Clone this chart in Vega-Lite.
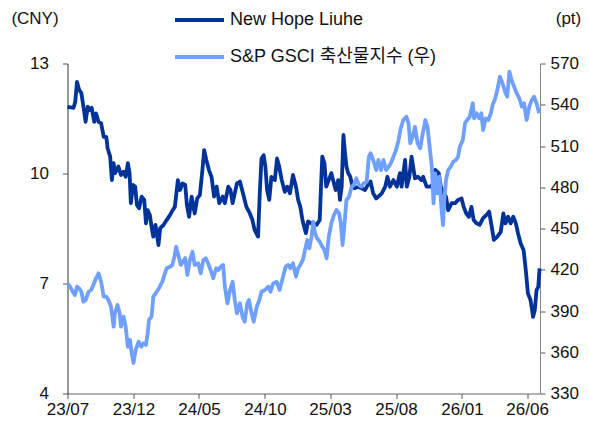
{
"$schema":"https://vega.github.io/schema/vega-lite/v6.json",
"width":472.5,"height":330,
"autosize":{"type":"none"},
"padding":{"left":67.5,"top":63.5,"right":49,"bottom":30.5},
"config":{"view":{"stroke":null},"font":"Liberation Sans, Noto Sans CJK KR, sans-serif",
"axis":{"labelFont":"Liberation Sans, Noto Sans CJK KR, sans-serif","labelFontSize":17,"labelColor":"#111","tickColor":"#555","domainColor":"#666","tickSize":5,"grid":false,"labelPadding":3,"titleFont":"Liberation Sans, Noto Sans CJK KR, sans-serif","titleFontSize":17,"titleFontWeight":"normal","titleColor":"#111"},
"legend":{"labelFont":"Liberation Sans, Noto Sans CJK KR, sans-serif"}},
"datasets":{
"nh":[{"d":"2023-07-01","v":11.82},{"d":"2023-07-15","v":11.79},{"d":"2023-07-19","v":11.96},{"d":"2023-07-23","v":12.5},{"d":"2023-07-28","v":12.28},{"d":"2023-08-02","v":12.2},{"d":"2023-08-07","v":11.82},{"d":"2023-08-12","v":11.41},{"d":"2023-08-17","v":11.82},{"d":"2023-08-22","v":11.73},{"d":"2023-08-26","v":11.79},{"d":"2023-09-01","v":11.41},{"d":"2023-09-05","v":11.64},{"d":"2023-09-11","v":11.41},{"d":"2023-09-17","v":11.37},{"d":"2023-09-23","v":11.0},{"d":"2023-09-29","v":11.0},{"d":"2023-10-02","v":10.69},{"d":"2023-10-08","v":10.46},{"d":"2023-10-12","v":9.82},{"d":"2023-10-16","v":10.28},{"d":"2023-10-19","v":10.01},{"d":"2023-10-27","v":10.19},{"d":"2023-11-02","v":9.96},{"d":"2023-11-08","v":10.05},{"d":"2023-11-13","v":9.91},{"d":"2023-11-18","v":10.28},{"d":"2023-11-22","v":10.01},{"d":"2023-11-25","v":9.19},{"d":"2023-11-30","v":9.69},{"d":"2023-12-05","v":9.64},{"d":"2023-12-09","v":9.14},{"d":"2023-12-14","v":9.05},{"d":"2023-12-20","v":9.37},{"d":"2023-12-26","v":9.28},{"d":"2023-12-30","v":8.64},{"d":"2024-01-03","v":9.0},{"d":"2024-01-08","v":8.87},{"d":"2024-01-12","v":8.55},{"d":"2024-01-16","v":8.28},{"d":"2024-01-21","v":8.6},{"d":"2024-01-28","v":8.05},{"d":"2024-02-01","v":8.51},{"d":"2024-02-09","v":8.6},{"d":"2024-02-16","v":8.73},{"d":"2024-02-24","v":8.87},{"d":"2024-03-01","v":9.0},{"d":"2024-03-06","v":9.09},{"d":"2024-03-13","v":9.82},{"d":"2024-03-18","v":9.55},{"d":"2024-03-24","v":9.73},{"d":"2024-03-30","v":9.69},{"d":"2024-04-03","v":9.14},{"d":"2024-04-08","v":8.82},{"d":"2024-04-14","v":9.37},{"d":"2024-04-21","v":8.91},{"d":"2024-04-27","v":9.32},{"d":"2024-05-03","v":9.41},{"d":"2024-05-09","v":10.1},{"d":"2024-05-13","v":10.64},{"d":"2024-05-18","v":10.37},{"d":"2024-05-24","v":10.1},{"d":"2024-05-30","v":9.91},{"d":"2024-06-05","v":9.37},{"d":"2024-06-11","v":9.64},{"d":"2024-06-17","v":9.19},{"d":"2024-06-25","v":9.37},{"d":"2024-06-30","v":9.19},{"d":"2024-07-08","v":9.64},{"d":"2024-07-13","v":9.55},{"d":"2024-07-18","v":9.19},{"d":"2024-07-23","v":9.46},{"d":"2024-07-28","v":9.73},{"d":"2024-08-04","v":9.78},{"d":"2024-08-11","v":9.46},{"d":"2024-08-19","v":9.09},{"d":"2024-08-27","v":8.91},{"d":"2024-09-02","v":8.73},{"d":"2024-09-07","v":8.46},{"d":"2024-09-15","v":8.28},{"d":"2024-09-19","v":9.46},{"d":"2024-09-23","v":10.41},{"d":"2024-09-28","v":10.5},{"d":"2024-10-02","v":10.19},{"d":"2024-10-06","v":9.55},{"d":"2024-10-11","v":9.28},{"d":"2024-10-16","v":9.91},{"d":"2024-10-24","v":9.82},{"d":"2024-10-29","v":10.41},{"d":"2024-11-03","v":10.19},{"d":"2024-11-09","v":9.82},{"d":"2024-11-16","v":9.5},{"d":"2024-11-22","v":9.64},{"d":"2024-11-28","v":9.46},{"d":"2024-12-05","v":9.96},{"d":"2024-12-12","v":9.64},{"d":"2024-12-17","v":9.28},{"d":"2024-12-22","v":9.09},{"d":"2024-12-27","v":8.73},{"d":"2025-01-01","v":8.5},{"d":"2025-01-04","v":8.37},{"d":"2025-01-09","v":8.69},{"d":"2025-01-17","v":8.64},{"d":"2025-01-29","v":8.6},{"d":"2025-02-05","v":8.73},{"d":"2025-02-08","v":9.64},{"d":"2025-02-11","v":10.46},{"d":"2025-02-16","v":10.28},{"d":"2025-02-20","v":9.64},{"d":"2025-02-26","v":9.82},{"d":"2025-03-04","v":10.01},{"d":"2025-03-10","v":9.73},{"d":"2025-03-14","v":9.55},{"d":"2025-03-20","v":9.82},{"d":"2025-03-24","v":9.28},{"d":"2025-03-28","v":9.64},{"d":"2025-04-01","v":11.05},{"d":"2025-04-04","v":10.64},{"d":"2025-04-08","v":10.19},{"d":"2025-04-12","v":10.01},{"d":"2025-04-17","v":9.91},{"d":"2025-04-22","v":9.64},{"d":"2025-04-27","v":9.6},{"d":"2025-05-05","v":9.64},{"d":"2025-05-13","v":9.6},{"d":"2025-05-21","v":9.55},{"d":"2025-05-28","v":9.69},{"d":"2025-06-03","v":9.78},{"d":"2025-06-09","v":9.46},{"d":"2025-06-16","v":9.32},{"d":"2025-06-21","v":9.37},{"d":"2025-06-29","v":9.46},{"d":"2025-07-07","v":9.64},{"d":"2025-07-12","v":9.91},{"d":"2025-07-18","v":9.64},{"d":"2025-07-26","v":9.82},{"d":"2025-08-03","v":9.64},{"d":"2025-08-10","v":10.01},{"d":"2025-08-14","v":9.64},{"d":"2025-08-22","v":10.37},{"d":"2025-08-26","v":9.64},{"d":"2025-09-01","v":9.91},{"d":"2025-09-06","v":10.46},{"d":"2025-09-14","v":9.87},{"d":"2025-09-21","v":9.91},{"d":"2025-09-29","v":9.82},{"d":"2025-10-03","v":9.91},{"d":"2025-10-11","v":9.64},{"d":"2025-10-19","v":9.64},{"d":"2025-10-25","v":9.69},{"d":"2025-10-31","v":10.1},{"d":"2025-11-08","v":10.01},{"d":"2025-11-13","v":9.64},{"d":"2025-11-19","v":9.46},{"d":"2025-11-25","v":9.37},{"d":"2025-11-30","v":9.0},{"d":"2025-12-08","v":9.19},{"d":"2025-12-16","v":9.19},{"d":"2025-12-23","v":9.28},{"d":"2025-12-31","v":9.32},{"d":"2026-01-05","v":9.09},{"d":"2026-01-11","v":8.91},{"d":"2026-01-17","v":8.82},{"d":"2026-01-23","v":9.09},{"d":"2026-01-28","v":8.73},{"d":"2026-02-04","v":8.64},{"d":"2026-02-11","v":8.6},{"d":"2026-02-19","v":8.78},{"d":"2026-02-27","v":8.87},{"d":"2026-03-05","v":8.96},{"d":"2026-03-11","v":8.55},{"d":"2026-03-16","v":8.19},{"d":"2026-03-24","v":8.28},{"d":"2026-04-01","v":8.41},{"d":"2026-04-07","v":8.91},{"d":"2026-04-12","v":8.64},{"d":"2026-04-18","v":8.82},{"d":"2026-04-24","v":8.64},{"d":"2026-04-30","v":8.82},{"d":"2026-05-06","v":8.64},{"d":"2026-05-11","v":8.37},{"d":"2026-05-17","v":8.1},{"d":"2026-05-24","v":7.91},{"d":"2026-05-29","v":7.37},{"d":"2026-06-03","v":6.73},{"d":"2026-06-09","v":6.55},{"d":"2026-06-15","v":6.09},{"d":"2026-06-19","v":6.28},{"d":"2026-06-23","v":6.82},{"d":"2026-06-27","v":6.91},{"d":"2026-06-30","v":7.41}],
"sp":[{"d":"2023-07-01","v":410.1},{"d":"2023-07-07","v":407.7},{"d":"2023-07-11","v":405.3},{"d":"2023-07-18","v":401.6},{"d":"2023-07-23","v":407.7},{"d":"2023-07-28","v":406.5},{"d":"2023-08-02","v":404.0},{"d":"2023-08-07","v":396.8},{"d":"2023-08-12","v":398.0},{"d":"2023-08-19","v":404.0},{"d":"2023-08-25","v":405.3},{"d":"2023-08-30","v":408.9},{"d":"2023-09-05","v":413.8},{"d":"2023-09-11","v":417.4},{"d":"2023-09-17","v":411.3},{"d":"2023-09-23","v":400.4},{"d":"2023-09-29","v":400.4},{"d":"2023-10-04","v":398.0},{"d":"2023-10-10","v":393.1},{"d":"2023-10-16","v":378.6},{"d":"2023-10-19","v":388.3},{"d":"2023-10-25","v":394.4},{"d":"2023-10-30","v":388.3},{"d":"2023-11-02","v":378.6},{"d":"2023-11-08","v":385.9},{"d":"2023-11-13","v":378.6},{"d":"2023-11-18","v":364.0},{"d":"2023-11-23","v":368.9},{"d":"2023-11-27","v":359.2},{"d":"2023-12-01","v":352.2},{"d":"2023-12-06","v":361.6},{"d":"2023-12-13","v":367.7},{"d":"2023-12-19","v":364.0},{"d":"2023-12-24","v":366.5},{"d":"2023-12-30","v":365.3},{"d":"2024-01-03","v":373.8},{"d":"2024-01-06","v":383.5},{"d":"2024-01-12","v":385.9},{"d":"2024-01-16","v":400.4},{"d":"2024-01-24","v":404.0},{"d":"2024-01-29","v":406.5},{"d":"2024-02-06","v":411.3},{"d":"2024-02-12","v":417.4},{"d":"2024-02-16","v":421.1},{"d":"2024-02-24","v":422.2},{"d":"2024-02-29","v":423.5},{"d":"2024-03-05","v":429.5},{"d":"2024-03-09","v":436.8},{"d":"2024-03-14","v":430.7},{"d":"2024-03-20","v":423.5},{"d":"2024-03-26","v":426.4},{"d":"2024-03-30","v":428.5},{"d":"2024-04-04","v":416.2},{"d":"2024-04-10","v":427.1},{"d":"2024-04-16","v":433.1},{"d":"2024-04-21","v":423.5},{"d":"2024-04-29","v":424.7},{"d":"2024-05-05","v":417.4},{"d":"2024-05-11","v":427.1},{"d":"2024-05-17","v":428.3},{"d":"2024-05-22","v":424.7},{"d":"2024-05-28","v":419.8},{"d":"2024-06-03","v":413.8},{"d":"2024-06-10","v":421.1},{"d":"2024-06-15","v":419.8},{"d":"2024-06-20","v":422.2},{"d":"2024-06-26","v":423.5},{"d":"2024-06-30","v":407.7},{"d":"2024-07-06","v":395.6},{"d":"2024-07-12","v":405.3},{"d":"2024-07-18","v":411.3},{"d":"2024-07-23","v":398.0},{"d":"2024-07-28","v":388.3},{"d":"2024-08-04","v":395.6},{"d":"2024-08-10","v":385.9},{"d":"2024-08-15","v":382.2},{"d":"2024-08-21","v":395.6},{"d":"2024-08-25","v":398.0},{"d":"2024-08-31","v":388.3},{"d":"2024-09-05","v":382.2},{"d":"2024-09-12","v":393.1},{"d":"2024-09-18","v":398.0},{"d":"2024-09-23","v":404.0},{"d":"2024-10-01","v":405.3},{"d":"2024-10-09","v":407.7},{"d":"2024-10-14","v":404.0},{"d":"2024-10-20","v":410.1},{"d":"2024-10-28","v":411.3},{"d":"2024-11-04","v":405.3},{"d":"2024-11-12","v":415.0},{"d":"2024-11-18","v":422.2},{"d":"2024-11-24","v":423.5},{"d":"2024-11-29","v":421.1},{"d":"2024-12-05","v":424.7},{"d":"2024-12-12","v":415.0},{"d":"2024-12-17","v":421.1},{"d":"2024-12-22","v":423.5},{"d":"2024-12-28","v":427.1},{"d":"2025-01-02","v":434.4},{"d":"2025-01-07","v":441.6},{"d":"2025-01-12","v":435.6},{"d":"2025-01-17","v":444.0},{"d":"2025-01-21","v":454.9},{"d":"2025-01-25","v":446.5},{"d":"2025-01-30","v":442.9},{"d":"2025-02-05","v":440.4},{"d":"2025-02-11","v":436.8},{"d":"2025-02-16","v":434.4},{"d":"2025-02-21","v":428.3},{"d":"2025-02-26","v":444.0},{"d":"2025-03-04","v":453.8},{"d":"2025-03-10","v":459.8},{"d":"2025-03-16","v":463.5},{"d":"2025-03-22","v":461.1},{"d":"2025-03-26","v":453.8},{"d":"2025-03-30","v":438.0},{"d":"2025-04-03","v":451.3},{"d":"2025-04-08","v":470.7},{"d":"2025-04-14","v":473.1},{"d":"2025-04-20","v":480.4},{"d":"2025-04-25","v":481.6},{"d":"2025-05-01","v":486.5},{"d":"2025-05-07","v":481.6},{"d":"2025-05-13","v":480.4},{"d":"2025-05-18","v":482.9},{"d":"2025-05-25","v":484.0},{"d":"2025-05-30","v":502.2},{"d":"2025-06-03","v":504.7},{"d":"2025-06-09","v":499.8},{"d":"2025-06-16","v":492.5},{"d":"2025-06-21","v":499.8},{"d":"2025-06-27","v":492.5},{"d":"2025-07-03","v":499.8},{"d":"2025-07-09","v":492.5},{"d":"2025-07-15","v":494.9},{"d":"2025-07-20","v":497.4},{"d":"2025-07-26","v":502.2},{"d":"2025-08-01","v":507.1},{"d":"2025-08-07","v":514.4},{"d":"2025-08-12","v":522.9},{"d":"2025-08-18","v":528.9},{"d":"2025-08-25","v":531.3},{"d":"2025-08-30","v":526.5},{"d":"2025-09-03","v":512.0},{"d":"2025-09-09","v":516.8},{"d":"2025-09-14","v":524.0},{"d":"2025-09-20","v":512.0},{"d":"2025-09-26","v":508.3},{"d":"2025-10-02","v":519.2},{"d":"2025-10-08","v":528.9},{"d":"2025-10-13","v":524.0},{"d":"2025-10-18","v":509.5},{"d":"2025-10-23","v":494.9},{"d":"2025-10-27","v":468.3},{"d":"2025-10-31","v":490.1},{"d":"2025-11-05","v":475.6},{"d":"2025-11-10","v":487.7},{"d":"2025-11-14","v":465.9},{"d":"2025-11-18","v":452.5},{"d":"2025-11-21","v":470.7},{"d":"2025-11-25","v":485.3},{"d":"2025-11-30","v":492.5},{"d":"2025-12-06","v":494.9},{"d":"2025-12-12","v":498.6},{"d":"2025-12-18","v":499.8},{"d":"2025-12-23","v":502.2},{"d":"2025-12-27","v":509.5},{"d":"2026-01-03","v":514.4},{"d":"2026-01-08","v":526.5},{"d":"2026-01-13","v":528.9},{"d":"2026-01-19","v":531.3},{"d":"2026-01-26","v":541.1},{"d":"2026-01-29","v":530.1},{"d":"2026-02-04","v":533.8},{"d":"2026-02-10","v":530.1},{"d":"2026-02-15","v":533.8},{"d":"2026-02-19","v":521.6},{"d":"2026-02-25","v":530.1},{"d":"2026-03-03","v":528.9},{"d":"2026-03-09","v":533.8},{"d":"2026-03-13","v":539.8},{"d":"2026-03-18","v":543.5},{"d":"2026-03-24","v":550.7},{"d":"2026-03-30","v":560.4},{"d":"2026-04-05","v":555.6},{"d":"2026-04-11","v":549.5},{"d":"2026-04-16","v":545.9},{"d":"2026-04-21","v":564.0},{"d":"2026-04-26","v":558.0},{"d":"2026-05-02","v":553.1},{"d":"2026-05-08","v":548.3},{"d":"2026-05-14","v":544.7},{"d":"2026-05-20","v":538.6},{"d":"2026-05-25","v":541.1},{"d":"2026-05-31","v":528.9},{"d":"2026-06-06","v":538.6},{"d":"2026-06-12","v":543.5},{"d":"2026-06-17","v":545.9},{"d":"2026-06-23","v":541.1},{"d":"2026-06-29","v":533.8}]
},
"encoding":{
"x":{"field":"d","type":"temporal","scale":{"type":"utc","domain":[{"year":2023,"month":7,"date":1,"utc":true},{"year":2026,"month":7,"date":1,"utc":true}]},
"axis":{"title":null,"labelExpr":"utcFormat(datum.value, '%y/%m')","labelOverlap":false,"labelFlush":false,"labelPadding":3,"values":[{"year":2023,"month":7,"date":1,"utc":true},{"year":2023,"month":12,"date":1,"utc":true},{"year":2024,"month":5,"date":1,"utc":true},{"year":2024,"month":10,"date":1,"utc":true},{"year":2025,"month":3,"date":1,"utc":true},{"year":2025,"month":8,"date":1,"utc":true},{"year":2026,"month":1,"date":1,"utc":true},{"year":2026,"month":6,"date":1,"utc":true}]}},
"color":{"type":"nominal","scale":{"domain":["New Hope Liuhe","S&P GSCI 축산물지수 (우)"],"range":["#003399","#70A0FF"]},
"legend":{"orient":"none","legendX":105.5,"legendY":-70,"direction":"vertical","title":null,"symbolType":"stroke","symbolSize":2400,"symbolStrokeWidth":4,"labelFontSize":18,"labelColor":"#111","labelLimit":0,"rowPadding":1,"labelOffset":4}}
},
"layer":[
{"data":{"name":"nh"},"mark":{"type":"line","strokeWidth":3.8,"strokeJoin":"round"},
"encoding":{"color":{"datum":"New Hope Liuhe"},
"y":{"field":"v","type":"quantitative","scale":{"domain":[4,13]},"axis":{"orient":"left","values":[4,7,10,13],"labelPadding":14,"title":"(CNY)","titleAngle":0,"titleX":-33,"titleY":-45.5,"titleAlign":"center","titleBaseline":"middle","domainColor":"#333"}}}},
{"data":{"name":"sp"},"mark":{"type":"line","strokeWidth":3.8,"strokeJoin":"round"},
"encoding":{"color":{"datum":"S&P GSCI 축산물지수 (우)"},
"y":{"field":"v","type":"quantitative","scale":{"domain":[330,570]},"axis":{"orient":"right","values":[330,360,390,420,450,480,510,540,570],"labelPadding":5,"title":"(pt)","titleAngle":0,"titleX":28,"titleY":-45.5,"titleAlign":"center","titleBaseline":"middle","domainColor":"#888"}}}}
],
"resolve":{"scale":{"y":"independent"}}
}
